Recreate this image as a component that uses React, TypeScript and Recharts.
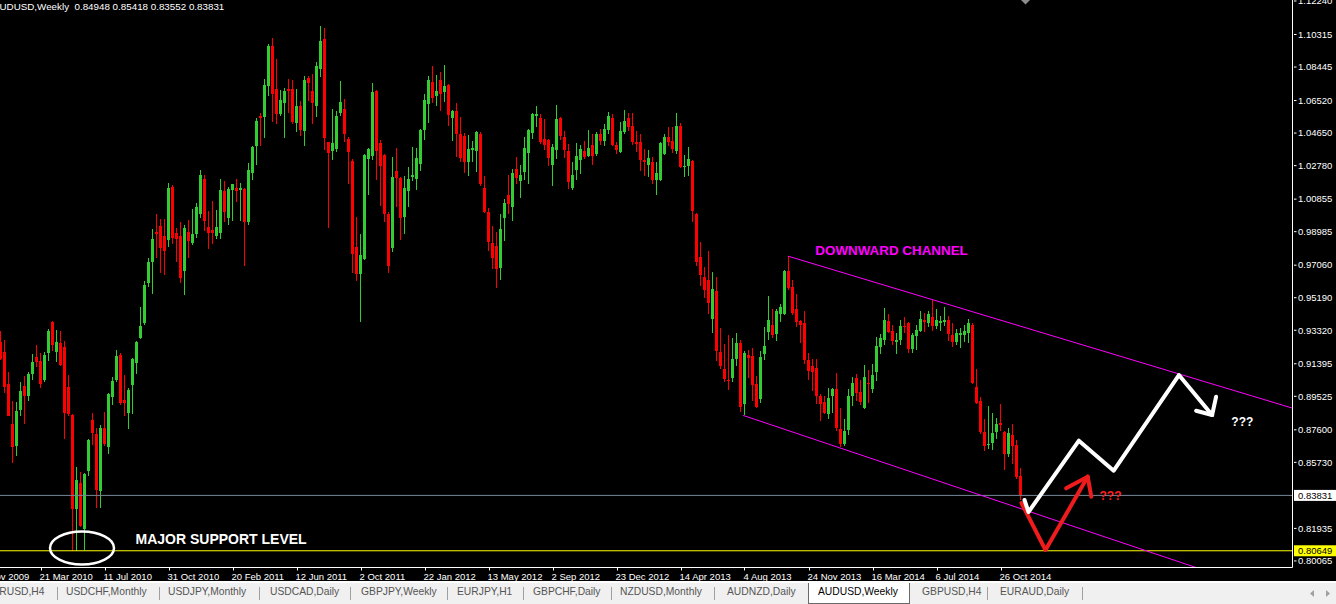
import React from 'react';
import { ComposedChart, Bar, Line, XAxis, YAxis, ReferenceLine, ReferenceDot } from 'recharts';

// ---------- data (weekly AUDUSD candles, index 0 = week of 10 Jan 2010) ----------
const OPEN = [
  0.9266,0.9208,0.9026,0.8796,0.8665,0.8874,0.9012,0.8957,0.9078,0.9179,
  0.9158,0.9047,0.9200,0.9381,0.9208,0.9258,0.9235,0.9005,0.8844,0.8305,
  0.8452,0.8191,0.8521,0.8817,0.8734,0.8410,0.8769,0.8661,0.8949,0.9047,
  0.9187,0.8932,0.8859,0.9016,0.9145,0.9287,0.9375,0.9605,0.9722,0.9897,
  0.9931,0.9872,0.9851,1.0154,0.9893,0.9872,0.9674,0.9897,0.9835,0.9883,
  1.0002,1.0202,0.9924,0.9908,0.9876,0.9889,1.0133,0.9977,1.0137,1.0148,
  1.0140,1.0144,0.9952,1.0238,1.0390,1.0566,1.0557,1.0735,1.0963,1.0718,
  1.0572,1.0635,1.0718,1.0718,1.0524,1.0618,1.0478,1.0781,1.0708,1.0620,
  1.0833,1.1007,1.0411,1.0363,1.0374,1.0582,1.0603,1.0432,1.0305,0.9810,
  0.9653,0.9743,1.0317,1.0336,1.0708,1.0409,1.0338,0.9998,0.9805,1.0248,
  1.0206,0.9983,1.0133,1.0213,1.0202,1.0290,1.0482,1.0630,1.0760,1.0676,
  1.0770,1.0702,1.0739,1.0551,1.0593,1.0457,1.0451,1.0296,1.0367,1.0363,
  1.0457,1.0150,1.0012,0.9835,0.9816,0.9690,0.9977,1.0112,1.0043,1.0259,
  1.0192,1.0242,1.0353,1.0468,1.0562,1.0551,1.0432,1.0426,1.0284,1.0367,
  1.0551,1.0442,1.0363,1.0150,1.0254,1.0311,1.0363,1.0336,1.0394,1.0342,
  1.0457,1.0422,1.0484,1.0551,1.0394,1.0359,1.0472,1.0551,1.0503,1.0415,
  1.0415,1.0311,1.0284,1.0300,1.0196,1.0196,1.0342,1.0442,1.0420,1.0363,
  1.0505,1.0271,1.0275,1.0305,1.0002,0.9753,0.9638,0.9621,0.9396,0.9559,
  0.9208,0.9110,0.9047,0.9057,0.9166,0.9256,0.8911,0.9189,0.9183,0.9026,
  0.8938,0.9197,0.9323,0.9360,0.9308,0.9427,0.9423,0.9674,0.9580,0.9454,
  0.9388,0.9375,0.9162,0.9126,0.9116,0.8953,0.8922,0.8853,0.8953,0.8995,
  0.8765,0.8681,0.8759,0.8953,0.9057,0.8978,0.8886,0.9030,0.8995,0.9095,
  0.9235,0.9277,0.9385,0.9329,0.9266,0.9277,0.9354,0.9371,0.9225,0.9298,
  0.9325,0.9392,0.9371,0.9408,0.9354,0.9371,0.9381,0.9392,0.9304,0.9266,
  0.9304,0.9304,0.9319,0.9364,0.9005,0.8926,0.8750,0.8671,0.8686,0.8748,
  0.8801,0.8748,0.8619,0.8730,0.8671,0.84948,
];
const HIGH = [
  0.9329,0.9277,0.9095,0.8926,0.8922,0.9037,0.9068,0.9095,0.9193,0.9245,
  0.9204,0.9208,0.9340,0.9388,0.9333,0.9325,0.9271,0.9074,0.8853,0.8546,
  0.8519,0.8514,0.8707,0.8859,0.8769,0.8786,0.8865,0.8970,0.9062,0.9218,
  0.9200,0.9074,0.8999,0.9172,0.9271,0.9465,0.9617,0.9747,0.9914,0.9998,
  0.9970,0.9970,1.0181,1.0165,0.9918,0.9952,0.9935,0.9966,1.0029,1.0064,
  1.0252,1.0223,1.0018,1.0075,1.0023,1.0202,1.0190,1.0154,1.0175,1.0202,
  1.0181,1.0150,1.0294,1.0388,1.0551,1.0582,1.0777,1.0975,1.1011,1.0892,
  1.0712,1.0722,1.0775,1.0770,1.0718,1.0649,1.0791,1.0791,1.0802,1.0871,
  1.1080,1.1069,1.0415,1.0603,1.0593,1.0764,1.0662,1.0440,1.0317,0.9981,
  0.9883,1.0342,1.0378,1.0754,1.0712,1.0426,1.0342,1.0012,1.0328,1.0380,
  1.0211,1.0217,1.0269,1.0384,1.0380,1.0488,1.0687,1.0791,1.0848,1.0798,
  1.0816,1.0858,1.0745,1.0599,1.0639,1.0557,1.0463,1.0453,1.0420,1.0478,
  1.0472,1.0217,1.0033,0.9931,0.9897,0.9998,1.0085,1.0223,1.0259,1.0328,
  1.0280,1.0442,1.0488,1.0578,1.0618,1.0572,1.0545,1.0432,1.0401,1.0624,
  1.0557,1.0478,1.0401,1.0296,1.0409,1.0394,1.0420,1.0482,1.0457,1.0472,
  1.0488,1.0520,1.0587,1.0572,1.0411,1.0530,1.0597,1.0578,1.0578,1.0478,
  1.0457,1.0374,1.0367,1.0326,1.0296,1.0415,1.0461,1.0499,1.0499,1.0582,
  1.0524,1.0338,1.0386,1.0311,1.0008,0.9837,0.9695,0.9789,0.9667,0.9638,
  0.9346,0.9252,0.9304,0.9287,0.9314,0.9277,0.9210,0.9218,0.9229,0.9068,
  0.9210,0.9350,0.9527,0.9454,0.9454,0.9481,0.9678,0.9757,0.9621,0.9538,
  0.9392,0.9444,0.9204,0.9166,0.9166,0.8968,0.8953,0.9001,0.9001,0.9089,
  0.8886,0.8821,0.8995,0.9064,0.9083,0.9047,0.9131,0.9103,0.9141,0.9294,
  0.9308,0.9459,0.9423,0.9360,0.9319,0.9392,0.9406,0.9377,0.9319,0.9364,
  0.9440,0.9433,0.9444,0.9507,0.9454,0.9413,0.9465,0.9413,0.9371,0.9340,
  0.9344,0.9360,0.9398,0.9371,0.9110,0.8949,0.8821,0.8897,0.8859,0.8828,
  0.8911,0.8755,0.8771,0.8796,0.8702,0.85418,
];
const LOW = [
  0.9162,0.8974,0.8838,0.8571,0.8608,0.8842,0.8796,0.8926,0.9047,0.9120,
  0.8999,0.9032,0.9158,0.9214,0.9151,0.9124,0.8707,0.8838,0.8065,0.8065,
  0.8201,0.8069,0.8493,0.8671,0.8310,0.8310,0.8665,0.8623,0.8901,0.9037,
  0.8901,0.8838,0.8765,0.8853,0.9083,0.9283,0.9360,0.9580,0.9538,0.9747,
  0.9659,0.9647,0.9810,0.9830,0.9722,0.9605,0.9534,0.9747,0.9824,0.9862,
  0.9977,0.9904,0.9799,0.9830,0.9858,0.9858,0.9956,0.9939,0.9962,1.0071,
  0.9962,0.9699,0.9935,1.0196,1.0284,1.0388,1.0436,1.0676,1.0530,1.0520,
  1.0562,1.0436,1.0582,1.0520,1.0474,1.0451,1.0388,1.0651,1.0520,1.0557,
  1.0787,1.0369,0.9920,1.0311,1.0357,1.0562,1.0415,1.0175,0.9663,0.9617,
  0.9381,0.9736,1.0112,1.0311,1.0196,1.0046,0.9956,0.9659,0.9784,1.0039,
  0.9851,0.9883,1.0043,1.0192,1.0140,1.0248,1.0426,1.0524,1.0635,1.0620,
  1.0593,1.0641,1.0505,1.0420,1.0328,1.0296,1.0234,1.0217,1.0300,1.0242,
  1.0160,1.0006,0.9789,0.9684,0.9576,0.9621,0.9845,0.9998,0.9962,1.0175,
  1.0092,1.0196,1.0175,1.0432,1.0499,1.0405,1.0369,1.0273,1.0160,1.0317,
  1.0426,1.0321,1.0144,1.0140,1.0196,1.0231,1.0317,1.0328,1.0284,1.0336,
  1.0399,1.0388,1.0457,1.0388,1.0342,1.0353,1.0461,1.0478,1.0399,1.0359,
  1.0248,1.0221,1.0213,1.0175,1.0112,1.0192,1.0338,1.0390,1.0353,1.0342,
  1.0265,1.0213,1.0221,0.9956,0.9701,0.9584,0.9517,0.9423,0.9319,0.9158,
  0.9110,0.9032,0.8991,0.9032,0.9124,0.8865,0.8844,0.9057,0.8928,0.8886,
  0.8915,0.9162,0.9277,0.9287,0.9273,0.9381,0.9419,0.9565,0.9417,0.9350,
  0.9260,0.9141,0.9047,0.8984,0.8907,0.8813,0.8849,0.8824,0.8859,0.8755,
  0.8661,0.8667,0.8730,0.8897,0.8928,0.8901,0.8880,0.8915,0.8974,0.9043,
  0.9197,0.9250,0.9319,0.9245,0.9197,0.9245,0.9319,0.9204,0.9204,0.9218,
  0.9323,0.9323,0.9350,0.9325,0.9340,0.9325,0.9354,0.9271,0.9235,0.9245,
  0.9231,0.9266,0.9256,0.9022,0.8911,0.8738,0.8636,0.8650,0.8646,0.8707,
  0.8755,0.8531,0.8604,0.8562,0.8477,0.83552,
];
const CLOSE = [
  0.9166,0.9005,0.8842,0.8661,0.8869,0.8984,0.8953,0.9078,0.9151,0.9151,
  0.9026,0.9187,0.9329,0.9245,0.9266,0.9131,0.8859,0.8849,0.8305,0.8473,
  0.8205,0.8504,0.8702,0.8744,0.8414,0.8769,0.8677,0.8968,0.9041,0.9183,
  0.8915,0.8915,0.8988,0.9166,0.9266,0.9354,0.9590,0.9722,0.9855,0.9883,
  0.9805,0.9789,1.0148,0.9862,0.9855,0.9632,0.9920,0.9847,0.9883,1.0039,
  1.0227,0.9960,0.9893,0.9893,0.9924,1.0137,1.0012,1.0144,1.0171,1.0133,
  1.0150,0.9956,1.0252,1.0384,1.0534,1.0551,1.0739,1.0963,1.0687,1.0572,
  1.0656,1.0708,1.0708,1.0530,1.0620,1.0482,1.0770,1.0750,1.0635,1.0850,
  1.0994,1.0436,1.0348,1.0409,1.0566,1.0641,1.0461,1.0359,0.9772,0.9653,
  0.9764,1.0338,1.0374,1.0702,1.0363,1.0275,0.9998,0.9701,1.0213,1.0206,
  0.9977,1.0150,1.0202,1.0223,1.0321,1.0482,1.0656,1.0770,1.0666,1.0708,
  1.0687,1.0733,1.0568,1.0593,1.0457,1.0321,1.0296,1.0374,1.0380,1.0472,
  1.0175,1.0012,0.9841,0.9747,0.9684,0.9914,1.0066,1.0056,1.0234,1.0206,
  1.0223,1.0380,1.0484,1.0572,1.0572,1.0415,1.0399,1.0321,1.0384,1.0547,
  1.0451,1.0369,1.0186,1.0227,1.0332,1.0374,1.0328,1.0380,1.0336,1.0457,
  1.0422,1.0488,1.0562,1.0394,1.0367,1.0478,1.0534,1.0499,1.0415,1.0405,
  1.0311,1.0300,1.0321,1.0196,1.0234,1.0409,1.0442,1.0415,1.0374,1.0505,
  1.0269,1.0275,1.0317,1.0018,0.9722,0.9647,0.9565,0.9490,0.9569,0.9214,
  0.9126,0.9053,0.9043,0.9166,0.9260,0.8890,0.9204,0.9172,0.9020,0.8890,
  0.9176,0.9241,0.9392,0.9304,0.9440,0.9465,0.9674,0.9576,0.9433,0.9381,
  0.9364,0.9162,0.9099,0.9095,0.8957,0.8911,0.8855,0.8943,0.8995,0.8771,
  0.8677,0.8755,0.8953,0.9030,0.8974,0.8922,0.9064,0.9026,0.9074,0.9241,
  0.9287,0.9392,0.9323,0.9273,0.9277,0.9356,0.9350,0.9225,0.9304,0.9333,
  0.9396,0.9381,0.9427,0.9354,0.9392,0.9388,0.9392,0.9308,0.9262,0.9319,
  0.9314,0.9329,0.9375,0.9030,0.8915,0.8750,0.8667,0.8681,0.8740,0.8796,
  0.8790,0.8619,0.8744,0.8665,0.8489,0.83831,
];

const X_TICK_INDEX = [-6, 10, 26, 42, 58, 74, 90, 106, 122, 138, 154, 170, 186, 202, 218, 234, 250];
const X_TICK_LABELS = [
  '29 Nov 2009', '21 Mar 2010', '11 Jul 2010', '31 Oct 2010', '20 Feb 2011', '12 Jun 2011',
  '2 Oct 2011', '22 Jan 2012', '13 May 2012', '2 Sep 2012', '23 Dec 2012', '14 Apr 2013',
  '4 Aug 2013', '24 Nov 2013', '16 Mar 2014', '6 Jul 2014', '26 Oct 2014',
];
const Y_TICKS = [1.1224, 1.10315, 1.08445, 1.0652, 1.0465, 1.0278, 1.00855, 0.98985, 0.9706, 0.9519,
  0.9332, 0.91395, 0.89525, 0.876, 0.8573, 0.81935, 0.80065];
const CURRENT_PRICE = 0.83831;
const SUPPORT_PRICE = 0.80649;

// drawn objects, in (bar index, price)
const UPPER_CHANNEL = [{ k: 197, p: 0.9757 }, { k: 323, p: 0.88845 }];
const LOWER_CHANNEL = [{ k: 185.75, p: 0.8842 }, { k: 299.75, p: 0.7962 }];
const RED_PATH = [{ k: 255.25, p: 0.83395 }, { k: 261.25, p: 0.80694 }, { k: 271.8, p: 0.84906 }];
const RED_HEAD_A = [{ k: 266.4, p: 0.84239 }, { k: 271.8, p: 0.84906 }];
const RED_HEAD_B = [{ k: 271.8, p: 0.84906 }, { k: 272.7, p: 0.83757 }];
const WHITE_PATH = [
  { k: 256.0, p: 0.83567 }, { k: 257.0, p: 0.82877 }, { k: 269.6, p: 0.86974 },
  { k: 278.3, p: 0.85251 }, { k: 294.6, p: 0.90749 }, { k: 302.9, p: 0.88451 },
];
const WHITE_HEAD_A = [{ k: 298.9, p: 0.88698 }, { k: 302.9, p: 0.88451 }];
const WHITE_HEAD_B = [{ k: 302.9, p: 0.88451 }, { k: 303.9, p: 0.89502 }];
const SUPPORT_RING = { k: 20.375, p: 0.8081 };
const NOTES = [
  { k: 33.75, p: 0.8101, text: 'MAJOR SUPPORT LEVEL', color: '#ffffff', size: 14 },
  { k: 203.7, p: 0.9767, text: 'DOWNWARD CHANNEL', color: '#ff00ff', size: 13.4 },
  { k: 274.75, p: 0.8357, text: '???', color: '#ff2020', size: 12 },
  { k: 307.7, p: 0.8782, text: '???', color: '#ffffff', size: 12 },
];

const SYMBOL = 'AUDUSD,Weekly';
const TABS = ['EURUSD,H4', 'USDCHF,Monthly', 'USDJPY,Monthly', 'USDCAD,Daily', 'GBPJPY,Weekly', 'EURJPY,H1',
  'GBPCHF,Daily', 'NZDUSD,Monthly', 'AUDNZD,Daily', 'AUDUSD,Weekly', 'GBPUSD,H4', 'EURAUD,Daily'];
const ACTIVE_TAB = 'AUDUSD,Weekly';

// ---------- layout / style ----------
const TAB_LEFT = [-15, 66, 168, 270, 361, 457, 533, 620, 727, 818, 922, 1000];
const SEP_LEFT = [57, 159, 259, 350, 447, 523, 611, 714, 987, 1082];
const FONT = "'Liberation Sans', Arial, sans-serif";
const GREEN = '#32cd32';
const RED = '#ff0000';
const BODY_W = 3;

const DATA = OPEN.map((o, i) => ({ k: i, o, h: HIGH[i], l: LOW[i], c: CLOSE[i] }));
const last = DATA.length - 1;

const Candle = (props: any) => {
  const { x, y, width, height, payload } = props;
  if (x == null || y == null || !payload) return null;
  const top = Math.min(y, y + height);
  const bot = Math.max(y, y + height);
  const { o, h, l, c } = payload;
  const span = h - l || 1e-9;
  const py = (p: number) => top + ((h - p) / span) * (bot - top);
  const color = c >= o ? GREEN : RED;
  const cx = x + (width || 0) / 2;
  const bx = Math.round(cx - BODY_W / 2);
  const wx = bx + 1;
  const yh = Math.round(py(h));
  const yl = Math.round(py(l));
  const bt = Math.round(py(Math.max(o, c)));
  let bb = Math.round(py(Math.min(o, c)));
  if (bb - bt < 1) bb = bt + 1;
  return (
    <g>
      <rect x={wx} y={yh} width={1} height={Math.max(1, yl - yh)} fill={color} shapeRendering="crispEdges" />
      <rect x={bx} y={bt} width={BODY_W} height={bb - bt} fill={color} shapeRendering="crispEdges" />
    </g>
  );
};

const XTick = (props: any) => {
  const { x, y, payload } = props;
  const idx = X_TICK_INDEX.indexOf(payload.value);
  return (
    <g>
      <line x1={Math.round(x) + 0.5} x2={Math.round(x) + 0.5} y1={y} y2={y + 3} stroke="#fff" strokeWidth={1} />
      <text x={x - 1} y={y + 12} fill="#fff" fontSize={9.5} fontFamily={FONT} textAnchor="start">
        {idx >= 0 ? X_TICK_LABELS[idx] : ''}
      </text>
    </g>
  );
};

const YTick = (props: any) => {
  const { x, y, payload } = props;
  return (
    <g>
      <line x1={x + 1.5} x2={x + 4} y1={y} y2={y} stroke="#fff" strokeWidth={1} />
      <text x={x + 5.5} y={y} dy="0.35em" fill="#fff" fontSize={9.5} fontFamily={FONT} textAnchor="start">
        {Number(payload.value).toFixed(5)}
      </text>
    </g>
  );
};

const PriceTag = (bg: string, value: number) => (props: any) => {
  const vb = props.viewBox || {};
  const x = vb.x + vb.width;
  const y = vb.y;
  return (
    <g>
      <rect x={x + 1.5} y={y - 5.5} width={44} height={11} fill={bg} />
      <text x={x + 5.5} y={y} dy="0.35em" fill="#000" fontSize={9.5} fontFamily={FONT}>
        {value.toFixed(5)}
      </text>
    </g>
  );
};

const Note = (n: typeof NOTES[number]) => (props: any) => (
  <text x={props.cx} y={props.cy} fill={n.color} fontSize={n.size} fontWeight="bold" fontFamily={FONT}>
    {n.text}
  </text>
);

const Ring = (props: any) => (
  <ellipse cx={props.cx} cy={props.cy} rx={32} ry={16.5} fill="none" stroke="#fff" strokeWidth={2.5} />
);

const pathLine = (data: any[], color: string, width: number, key: string) => (
  <Line
    key={key}
    data={data}
    dataKey="p"
    type="linear"
    stroke={color}
    strokeWidth={width}
    strokeLinejoin="round"
    strokeLinecap="round"
    dot={false}
    activeDot={false}
    isAnimationActive={false}
    legendType="none"
  />
);

export default function App() {
  const title = `${SYMBOL}  ${OPEN[last].toFixed(5)} ${HIGH[last].toFixed(5)} ${LOW[last].toFixed(5)} ${CLOSE[last].toFixed(5)}`;
  return (
    <div style={{ position: 'fixed', left: 0, top: 0, width: 1336, height: 604, background: '#000', overflow: 'hidden', fontFamily: FONT }}>
      <div style={{ position: 'absolute', left: -26, top: 0 }}>
        <ComposedChart width={1362.5} height={583.5} data={DATA} margin={{ top: 0, right: 0, bottom: 0, left: 0 }}>
          <XAxis
            type="number"
            dataKey="k"
            domain={[-6.625, 323]}
            allowDataOverflow
            ticks={X_TICK_INDEX}
            interval={0}
            height={16}
            tickSize={0}
            tickMargin={0}
            tickLine={false}
            axisLine={{ stroke: '#fff', strokeWidth: 1 }}
            tick={(p: any) => <XTick {...p} />}
          />
          <YAxis
            orientation="right"
            type="number"
            domain={[0.79688, 1.12297]}
            allowDataOverflow
            ticks={Y_TICKS}
            interval={0}
            width={44}
            tickSize={0}
            tickMargin={0}
            tickLine={false}
            axisLine={{ stroke: '#fff', strokeWidth: 1 }}
            tick={(p: any) => <YTick {...p} />}
          />
          <ReferenceLine y={CURRENT_PRICE} stroke="#778899" strokeWidth={1} label={PriceTag('#ffffff', CURRENT_PRICE)} />
          <ReferenceLine y={SUPPORT_PRICE} stroke="#ffff00" strokeWidth={1} label={PriceTag('#ffff00', SUPPORT_PRICE)} />
          <Bar dataKey={(d: any) => [d.l, d.h]} barSize={3} shape={(p: any) => <Candle {...p} />} isAnimationActive={false} />
          {pathLine(UPPER_CHANNEL, '#ff00ff', 1, 'uc')}
          {pathLine(LOWER_CHANNEL, '#ff00ff', 1, 'lc')}
          {pathLine(RED_PATH, '#ee1c1c', 4, 'rp')}
          {pathLine(RED_HEAD_A, '#ee1c1c', 4, 'rha')}
          {pathLine(RED_HEAD_B, '#ee1c1c', 4, 'rhb')}
          {pathLine(WHITE_PATH, '#ffffff', 4, 'wp')}
          {pathLine(WHITE_HEAD_A, '#ffffff', 4, 'wha')}
          {pathLine(WHITE_HEAD_B, '#ffffff', 4, 'whb')}
          <ReferenceDot x={SUPPORT_RING.k} y={SUPPORT_RING.p} r={0} ifOverflow="visible" shape={Ring} />
          {NOTES.map((n, i) => (
            <ReferenceDot key={i} x={n.k} y={n.p} r={0} ifOverflow="visible" shape={Note(n)} />
          ))}
        </ComposedChart>
      </div>
      <div style={{ position: 'absolute', left: -7, top: 1, color: '#fff', fontSize: 9.8, whiteSpace: 'pre', lineHeight: '11px' }}>
        {title}
      </div>
      <svg style={{ position: 'absolute', left: 1021, top: 0 }} width={10} height={6}>
        <polygon points="0,0 9,0 4.5,4.5" fill="#8c8c8c" />
      </svg>
      <div style={{ position: 'absolute', left: 0, top: 581, width: 1336, height: 2, background: '#ffffff' }} />
      <div style={{ position: 'absolute', left: 0, top: 583, width: 1336, height: 21, background: '#f0f0f0' }}>
        {TABS.map((t, i) => {
          const active = t === ACTIVE_TAB;
          return (
            <React.Fragment key={t}>
              {active && (
                <div style={{ position: 'absolute', left: 808, top: 0, width: 102, height: 21, background: '#fff', border: '1px solid #6a6a6a', borderTop: 'none', boxSizing: 'border-box' }} />
              )}
              <div style={{ position: 'absolute', left: TAB_LEFT[i], top: 3, fontSize: 10.3, color: active ? '#000' : '#555', whiteSpace: 'nowrap' }}>
                {t}
              </div>
            </React.Fragment>
          );
        })}
        {SEP_LEFT.map((x, i) => (
          <div key={i} style={{ position: 'absolute', left: x, top: 4, width: 1, height: 13, background: '#a0a0a0' }} />
        ))}
        <svg style={{ position: 'absolute', left: 1310, top: 6 }} width={24} height={9}>
          <polygon points="4,1 0,4.5 4,8" fill="#a0a0a0" />
          <polygon points="16,1 20,4.5 16,8" fill="#a0a0a0" />
        </svg>
      </div>
    </div>
  );
}
